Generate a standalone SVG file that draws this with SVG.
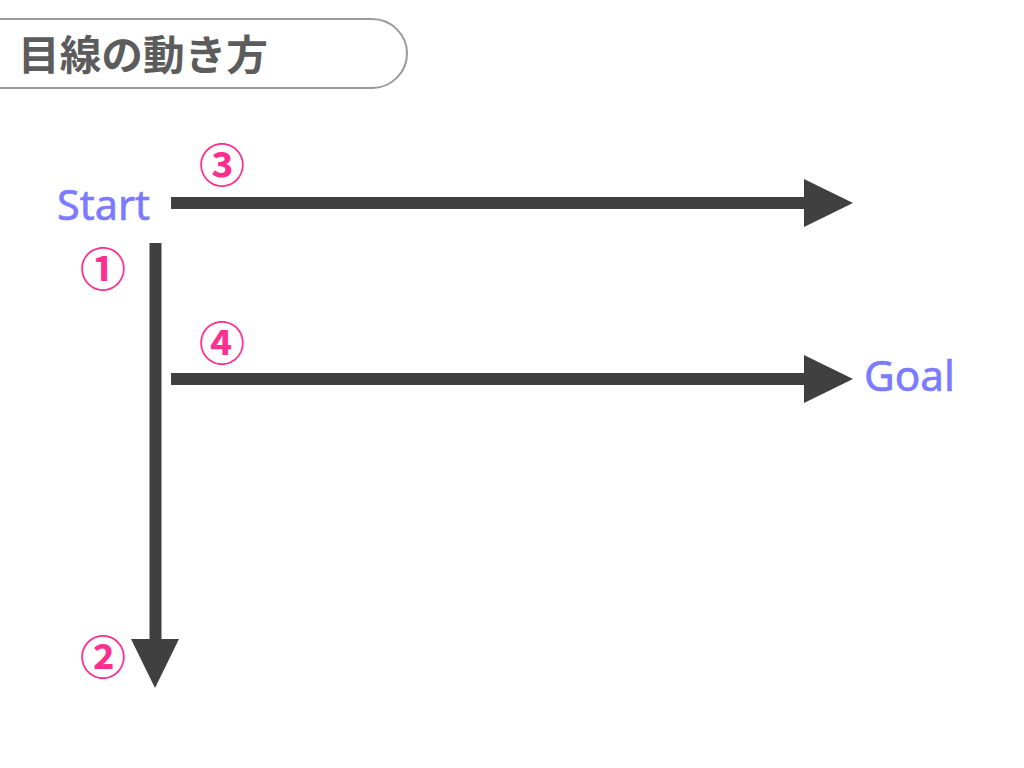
<svg xmlns="http://www.w3.org/2000/svg" width="1024" height="768" viewBox="0 0 1024 768">
<style>
.title{font-family:"Noto Sans CJK JP","Noto Sans",sans-serif;font-weight:bold;font-size:41px;fill:#5c5c5c}
.lbl{font-family:"Noto Sans","Noto Sans CJK JP",sans-serif;font-size:42px;fill:#7b7bff;stroke:#7b7bff;stroke-width:0.6}
.num{font-family:"Noto Sans CJK JP",sans-serif;font-weight:bold;font-size:46px;fill:#ff2f8f}
.shaft{stroke:#404040;stroke-width:12;fill:none}
.head{fill:#404040}
</style>
<rect width="1024" height="768" fill="#fff"/>
<g id="title">
<rect x="-50" y="19" width="457" height="69" rx="35" ry="35" fill="#fff" stroke="#9a9a9a" stroke-width="2"/>
<text class="title" x="18" y="70" textLength="250" lengthAdjust="spacingAndGlyphs">目線の動き方</text>
</g>
<g id="start"><text class="lbl" x="57" y="220" textLength="93" lengthAdjust="spacingAndGlyphs">Start</text></g>
<g id="goal"><text class="lbl" x="864" y="391" textLength="91" lengthAdjust="spacingAndGlyphs">Goal</text></g>
<g id="connectors">
<line class="shaft" x1="171" y1="203" x2="806" y2="203"/>
<polygon class="head" points="804,179 853,203 804,227"/>
<line class="shaft" x1="171" y1="379" x2="806" y2="379"/>
<polygon class="head" points="804,355 853,379 804,403"/>
<line class="shaft" x1="155.5" y1="243" x2="155.5" y2="641"/>
<polygon class="head" points="131,639 179,639 155,688"/>
</g>
<g id="n1"><text class="num" x="103" y="286" text-anchor="middle">①</text></g>
<g id="n2"><text class="num" x="103" y="674" text-anchor="middle">②</text></g>
<g id="n3"><text class="num" x="222" y="182" text-anchor="middle">③</text></g>
<g id="n4"><text class="num" x="222" y="360" text-anchor="middle">④</text></g>
</svg>
